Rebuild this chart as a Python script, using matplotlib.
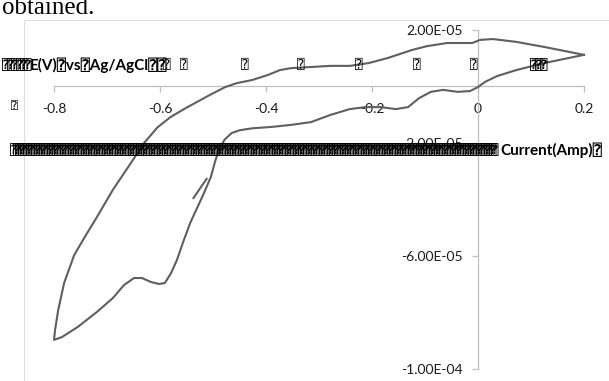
import matplotlib
matplotlib.use("Agg")
import matplotlib.pyplot as plt
from matplotlib.ticker import FixedLocator, FixedFormatter

# Cyclic voltammogram: potential (V vs Ag/AgCl) and current (A)
potential = [
    0.200, 0.125, 0.072, 0.036, 0.013, 0.000, -0.015, -0.038, -0.066, -0.089,
    -0.111, -0.132, -0.155, -0.183, -0.213, -0.242, -0.279, -0.315, -0.353, -0.389,
    -0.426, -0.450, -0.465, -0.478, -0.488, -0.496, -0.504, -0.517, -0.530, -0.543,
    -0.557, -0.568,
    -0.579, -0.591, -0.602, -0.617, -0.634, -0.649, -0.668, -0.689, -0.719, -0.755,
    -0.785, -0.800,
    -0.798, -0.792, -0.781, -0.762, -0.742, -0.719, -0.689, -0.660, -0.630, -0.605,
    -0.580, -0.551, -0.506, -0.477, -0.455, -0.426, -0.396, -0.374, -0.353, -0.315,
    -0.279, -0.242, -0.206, -0.170, -0.125, -0.096, -0.058, -0.026, -0.011, 0.004,
    0.028, 0.072, 0.125, 0.200,
]
current = [
    1.12e-5, 8.3e-6, 5.8e-6, 3.7e-6, 1.6e-6, -2e-7, -1.6e-6, -1.9e-6, -1.2e-6, -1.9e-6,
    -4.1e-6, -7.3e-6, -8.0e-6, -7.3e-6, -7.3e-6, -8.0e-6, -1.01e-5, -1.26e-5, -1.36e-5, -1.43e-5,
    -1.48e-5, -1.55e-5, -1.65e-5, -1.88e-5, -2.2e-5, -2.65e-5, -3.2e-5, -3.77e-5, -4.3e-5, -4.83e-5,
    -5.54e-5, -6.14e-5,
    -6.6e-5, -6.96e-5, -6.99e-5, -6.92e-5, -6.78e-5, -6.78e-5, -7.03e-5, -7.49e-5, -7.98e-5, -8.51e-5,
    -8.87e-5, -8.97e-5,
    -8.62e-5, -7.91e-5, -6.96e-5, -5.97e-5, -5.33e-5, -4.62e-5, -3.66e-5, -2.85e-5, -2.0e-5, -1.45e-5,
    -1.08e-5, -7.6e-6, -3.0e-6, -2e-7, 1.2e-6, 2.3e-6, 4.1e-6, 5.8e-6, 6.5e-6, 6.9e-6,
    7.3e-6, 7.3e-6, 8.3e-6, 1.01e-5, 1.29e-5, 1.43e-5, 1.54e-5, 1.54e-5, 1.54e-5, 1.65e-5,
    1.68e-5, 1.58e-5, 1.40e-5, 1.12e-5,
]
# short trace at the start of the sweep
start_potential = [-0.538, -0.511]
start_current = [-3.98e-5, -3.24e-5]

x_ticks = [-0.8, -0.6, -0.4, -0.2, 0.0, 0.2]
x_tick_labels = ["-0.8", "-0.6", "-0.4", "-0.2", "0", "0.2"]
y_ticks = [-1e-4, -6e-5, -2e-5, 2e-5]
y_tick_labels = ["-1.00E-04", "-6.00E-05", "-2.00E-05", "2.00E-05"]

BOX = "\u2370"
SANS = ["Lato", "DejaVu Sans", "DejaVu Sans Mono"]
W, H = 609, 381

fig = plt.figure(figsize=(W / 100, H / 100), dpi=100)
fig.patch.set_facecolor("white")


def fx(px):
    return px / W


def fy(py):
    return 1 - py / H


# chart area frame
frame = plt.Rectangle((fx(24), fy(H + 5)), fx(W + 20), fy(20) - fy(H + 5),
                      transform=fig.transFigure, facecolor="none",
                      edgecolor="#dedede", lw=0.8)
fig.add_artist(frame)

ax = fig.add_axes([fx(54), fy(369), fx(584) - fx(54), fy(30) - fy(369)])
ax.set_xlim(-0.8, 0.2)
ax.set_ylim(-1e-4, 2e-5)
ax.patch.set_alpha(0)

for side in ("top", "right"):
    ax.spines[side].set_visible(False)
ax.spines["left"].set_position(("data", 0))
ax.spines["bottom"].set_position(("data", 0))
for side in ("left", "bottom"):
    ax.spines[side].set_color("#bfbfbf")
    ax.spines[side].set_linewidth(0.9)

ax.xaxis.set_major_locator(FixedLocator(x_ticks))
ax.xaxis.set_major_formatter(FixedFormatter(x_tick_labels))
ax.yaxis.set_major_locator(FixedLocator(y_ticks))
ax.yaxis.set_major_formatter(FixedFormatter(y_tick_labels))
ax.tick_params(axis="both", direction="out", length=4, width=0.9, color="#bfbfbf",
               labelsize=10, labelcolor="#1a1a1a")
ax.tick_params(axis="x", pad=8)
ax.tick_params(axis="y", pad=7)
for lab in ax.get_xticklabels() + ax.get_yticklabels():
    lab.set_family(SANS)

ax.plot(potential, current, color="#5f5f5f", lw=1.5, clip_on=False,
        solid_joinstyle="round", zorder=3)
ax.plot(start_potential, start_current, color="#5f5f5f", lw=1.5, clip_on=False,
        solid_capstyle="butt", zorder=3)

# caption fragment above the chart, running off the top edge
fig.text(fx(2), fy(14), "obtained.", family=["Liberation Serif"], fontsize=18,
         ha="left", va="baseline", color="black")


def put(px, py, s, size=11, weight="bold", ha="left"):
    fig.text(fx(px), fy(py), s, family=SANS, fontsize=size, fontweight=weight,
             ha=ha, va="center", color="black")


# horizontal axis title
for i in range(6):
    put(2 + i * 4.5, 65, BOX, size=9)
put(30, 65, "E(V)" + BOX + "vs" + BOX + "Ag/AgCl" + BOX + BOX)
for px in (167, 184, 245, 301, 359, 417, 474):
    put(px, 65, BOX, size=9, weight="normal", ha="center")
for i in range(3):
    put(530 + i * 5, 65, BOX, size=9)

put(14, 105, BOX, size=8, weight="normal", ha="center")

# vertical axis title
n = 185
for i in range(n):
    put(10 + i * (494 - 10) / n, 150, BOX, size=9)
put(500, 150, "Current(Amp)" + BOX)

fig.savefig("out.png", dpi=100, facecolor="white")
